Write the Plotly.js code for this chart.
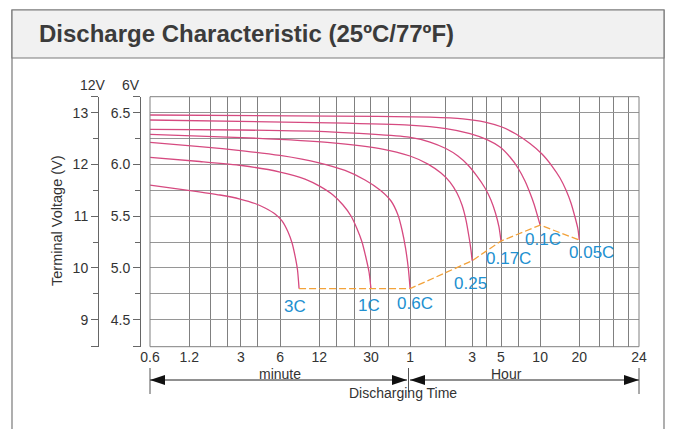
<!DOCTYPE html>
<html>
<head>
<meta charset="utf-8">
<script src="https://cdn.plot.ly/plotly-3.0.1.min.js"></script>
<style>
html,body{margin:0;padding:0;background:#fff;}
#chart{width:674px;height:429px;}
</style>
</head>
<body>
<div id="chart"></div>
<script>
// ---------- data (time in minutes, voltage on the 6V scale) ----------
const RATES = ['3C', '1C', '0.6C', '0.25C', '0.17C', '0.1C', '0.05C'];

const T_3C   = [0.6, 1.22, 2.07, 2.95, 3.85, 4.6, 5.49, 6.21, 6.91, 7.42, 7.82, 8.17, 8.4];
const V_3C   = [5.80, 5.748, 5.705, 5.666, 5.623, 5.579, 5.521, 5.454, 5.347, 5.241, 5.116, 4.98, 4.80];

const T_1C   = [0.6, 1.45, 3.04, 6, 9.33, 12.17, 15.32, 18.29, 21.07, 23.43, 25.6, 27.49, 28.99, 30];
const V_1C   = [6.069, 6.029, 5.99, 5.927, 5.859, 5.788, 5.705, 5.608, 5.502, 5.379, 5.251, 5.096, 4.961, 4.80];

const T_06C  = [0.6, 1.45, 3.23, 6, 11.75, 18.95, 27, 35.2, 42.8, 48.4, 52, 55.3, 58.1, 60];
const V_06C  = [6.214, 6.173, 6.13, 6.087, 6.019, 5.942, 5.85, 5.753, 5.647, 5.512, 5.367, 5.193, 5.0, 4.80];

const T_025C = [0.6, 3.04, 14.53, 35.2, 59.9, 82.4, 103.7, 121.6, 137.6, 150.4, 161.4, 170.3, 176.3, 180];
const V_025C = [6.291, 6.26, 6.212, 6.154, 6.082, 6.004, 5.917, 5.83, 5.724, 5.608, 5.463, 5.299, 5.173, 5.07];

const T_017C = [0.6, 3, 14.5, 58.8, 85.3, 113, 140, 167, 196, 226, 251, 272, 289.5, 300];
const V_017C = [6.34, 6.333, 6.316, 6.265, 6.217, 6.154, 6.082, 5.995, 5.888, 5.773, 5.657, 5.531, 5.396, 5.26];

const T_01C  = [0.6, 14.53, 58.8, 113.3, 173.3, 234, 294.7, 351.8, 405.3, 458.8, 501.4, 538.1, 567.5, 600];
const V_01C  = [6.43, 6.403, 6.381, 6.347, 6.299, 6.241, 6.169, 6.072, 5.966, 5.84, 5.724, 5.618, 5.521, 5.414];

const T_005C = [0.6, 14.53, 85.3, 153, 226, 305, 391, 501, 620, 740, 853, 948, 1036, 1112, 1172, 1200];
const V_005C = [6.478, 6.468, 6.457, 6.441, 6.41, 6.362, 6.294, 6.202, 6.101, 5.985, 5.869, 5.753, 5.628, 5.492, 5.376, 5.27];

// final (cut-off) voltage line
const T_END = [8.4, 60, 180, 300, 600, 1200];
const V_END = [4.80, 4.80, 5.07, 5.26, 5.414, 5.27];

// axes
const X_GRID = [0.6, 1.2, 1.75, 2.35, 3, 4.05, 6, 12, 16.4, 22.6, 30, 40.8, 60, 113, 180, 233, 300, 407, 600, 1200, 1711, 2190, 2858, 3450];
const X_TICK_TEXT = ['0.6','1.2','','','3','','6','12','','','30','','1','','3','','5','','10','20','','','','24'];
const X_RANGE = [0.5995, 3455];

const V6_TICKS = [4.5, 5.0, 5.5, 6.0, 6.5];
const V6_TEXT = ['4.5', '5.0', '5.5', '6.0', '6.5'];
const V6_MINOR = [4.75, 5.25, 5.75, 6.25];
const V6_RANGE = [4.239, 6.655];

const V12_TICKS = [9, 10, 11, 12, 13];
const V12_TEXT = ['9', '10', '11', '12', '13'];
const V12_MINOR = [9.5, 10.5, 11.5, 12.5];

// ---------- drawing ----------
const W = 674, H = 429;
const px = x => x / W;
const py = y => 1 - y / H;
const FONT = 'Liberation Sans, Arial, Helvetica, sans-serif';
const PINK = '#d64a80';
const BLUE = '#2290d0';
const TXT = '#333333';

const series = [
  [T_3C, V_3C], [T_1C, V_1C], [T_06C, V_06C], [T_025C, V_025C],
  [T_017C, V_017C], [T_01C, V_01C], [T_005C, V_005C]
];

const traces = series.map((s, i) => ({
  type: 'scatter', mode: 'lines', name: RATES[i],
  x: s[0], y: s[1], xaxis: 'x', yaxis: 'y',
  line: {color: PINK, width: 1.3, shape: 'spline', smoothing: 0.6},
  hoverinfo: 'skip'
}));
traces.push({
  type: 'scatter', mode: 'lines', name: 'end voltage',
  x: T_END, y: V_END, xaxis: 'x', yaxis: 'y',
  line: {color: '#f2a23a', width: 1.3, dash: '7px,3px'},
  hoverinfo: 'skip'
});
// registers the 12V axis
traces.push({type: 'scatter', mode: 'lines', x: [], y: [], xaxis: 'x', yaxis: 'y2', hoverinfo: 'skip'});

const r6 = V6_RANGE;
const r12 = [r6[0] * 2, r6[1] * 2];
const eps6 = 0.0005, eps12 = 0.001;

const domY = [(H - 346.7) / H, (H - 96.7) / H];

const layout = {
  width: W, height: H,
  margin: {l: 0, r: 0, t: 0, b: 0},
  paper_bgcolor: '#ffffff', plot_bgcolor: 'rgba(0,0,0,0)',
  showlegend: false,
  title: {
    text: '<b>Discharge Characteristic (25ºC/77ºF)</b>',
    x: px(39), xanchor: 'left', y: py(34), yanchor: 'middle',
    font: {family: FONT, size: 24, color: '#3b3b3b'}
  },
  xaxis: {
    type: 'log', domain: [px(150), px(639)],
    range: [Math.log10(X_RANGE[0]), Math.log10(X_RANGE[1])],
    tickmode: 'array', tickvals: X_GRID, ticktext: X_TICK_TEXT,
    ticks: '', showgrid: true, gridcolor: '#808080', gridwidth: 1,
    showline: false, zeroline: false, anchor: 'y',
    tickfont: {family: FONT, size: 14, color: TXT}
  },
  yaxis: {
    domain: domY, range: r6, anchor: 'free', position: px(140), side: 'left',
    tickmode: 'array',
    tickvals: [r6[0] + eps6].concat(V6_TICKS, [r6[1] - eps6]),
    ticktext: [''].concat(V6_TEXT, ['']),
    ticks: 'outside', ticklen: 7, tickcolor: '#666', tickwidth: 1,
    showline: true, linecolor: '#666', linewidth: 1,
    showgrid: true, gridcolor: '#969696', gridwidth: 1, zeroline: false,
    minor: {tickvals: V6_MINOR, ticks: 'outside', ticklen: 5, tickcolor: '#666',
            showgrid: true, gridcolor: '#969696', gridwidth: 1},
    tickfont: {family: FONT, size: 14, color: TXT}
  },
  yaxis2: {
    overlaying: 'y', range: r12, anchor: 'free', position: px(98), side: 'left',
    tickmode: 'array',
    tickvals: [r12[0] + eps12].concat(V12_TICKS, [r12[1] - eps12]),
    ticktext: [''].concat(V12_TEXT, ['']),
    ticks: 'outside', ticklen: 7, tickcolor: '#666', tickwidth: 1,
    showline: true, linecolor: '#666', linewidth: 1,
    showgrid: false, zeroline: false,
    minor: {tickvals: V12_MINOR, ticks: 'outside', ticklen: 5, tickcolor: '#666', showgrid: false},
    tickfont: {family: FONT, size: 14, color: TXT}
  },
  shapes: [
    // outer frame and header band
    {type: 'rect', xref: 'paper', yref: 'paper', x0: px(12), x1: px(664), y0: py(445), y1: py(10),
     line: {color: '#7a7a7a', width: 1.2}, fillcolor: '#ffffff', layer: 'below'},
    {type: 'rect', xref: 'paper', yref: 'paper', x0: px(12), x1: px(664), y0: py(58), y1: py(10),
     line: {color: '#7a7a7a', width: 1.2}, fillcolor: '#f1f1f1', layer: 'below'},
    // plot border
    {type: 'rect', xref: 'x domain', yref: 'y domain', x0: 0, x1: 1, y0: 0, y1: 1,
     line: {color: '#808080', width: 1}, layer: 'above'},
    // discharging time arrows
    {type: 'line', xref: 'paper', yref: 'paper', x0: px(150), x1: px(407), y0: py(380), y1: py(380), line: {color: '#222', width: 1}},
    {type: 'line', xref: 'paper', yref: 'paper', x0: px(410), x1: px(639), y0: py(380), y1: py(380), line: {color: '#222', width: 1}},
    {type: 'line', xref: 'paper', yref: 'paper', x0: px(150), x1: px(150), y0: py(368), y1: py(394), line: {color: '#555', width: 1}},
    {type: 'line', xref: 'paper', yref: 'paper', x0: px(408.5), x1: px(408.5), y0: py(368), y1: py(392), line: {color: '#555', width: 1}},
    {type: 'line', xref: 'paper', yref: 'paper', x0: px(639), x1: px(639), y0: py(368), y1: py(394), line: {color: '#555', width: 1}}
  ],
  annotations: []
};

function tri(tipX, baseX, y) {
  return {type: 'path', xref: 'paper', yref: 'paper',
    path: 'M' + px(tipX) + ',' + py(y) + ' L' + px(baseX) + ',' + py(y - 5) + ' L' + px(baseX) + ',' + py(y + 5) + ' Z',
    fillcolor: '#111', line: {color: '#111', width: 0}};
}
layout.shapes.push(tri(150, 165, 380), tri(407, 392, 380), tri(410, 425, 380), tri(639, 624, 380));

function txt(text, x, y, size, color, extra) {
  return Object.assign({text: text, xref: 'paper', yref: 'paper', x: px(x), y: py(y),
    xanchor: 'center', yanchor: 'middle', showarrow: false,
    font: {family: FONT, size: size, color: color}}, extra || {});
}
layout.annotations.push(
  txt('12V', 93, 85, 14, TXT),
  txt('6V', 131, 85, 14, TXT),
  txt('Terminal Voltage (V)', 57, 221, 14.5, TXT, {textangle: -90}),
  txt('minute', 280, 373.5, 14, TXT),
  txt('Hour', 506, 373.5, 14, TXT),
  txt('Discharging Time', 403, 393, 14, TXT),
  txt('3C', 295, 306, 17, BLUE),
  txt('1C', 369, 305, 17, BLUE),
  txt('0.6C', 415, 303, 17, BLUE),
  txt('0.25', 470, 283, 17, BLUE),
  txt('0.17C', 508, 258, 17, BLUE),
  txt('0.1C', 543, 239, 17, BLUE),
  txt('0.05C', 591, 252, 17, BLUE)
);

Plotly.newPlot('chart', traces, layout, {staticPlot: true, displayModeBar: false});
</script>
</body>
</html>
